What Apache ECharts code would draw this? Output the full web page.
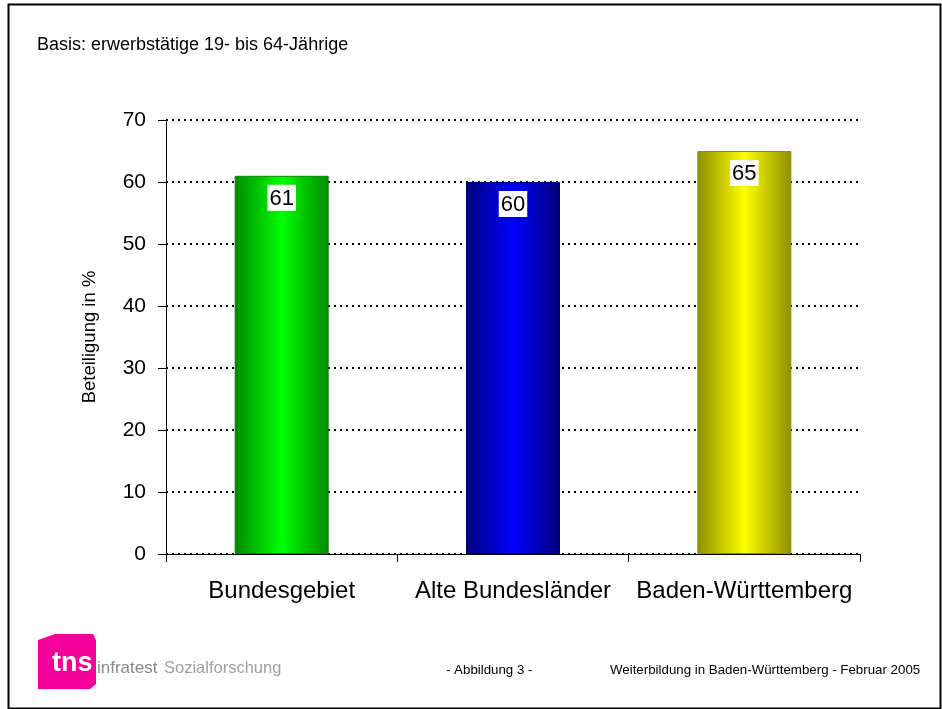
<!DOCTYPE html>
<html>
<head>
<meta charset="utf-8">
<script src="https://cdn.jsdelivr.net/npm/echarts@6/dist/echarts.min.js"></script>
<style>
  html, body { margin: 0; padding: 0; background: #fff; }
  #main { width: 942px; height: 709px; }
</style>
</head>
<body>
<div id="main"></div>
<script>
// Daten
var categories = ['Bundesgebiet', 'Alte Bundesländer', 'Baden-Württemberg'];
var values = [61, 60, 65];
var yTicks = [0, 10, 20, 30, 40, 50, 60, 70];

// Farben der Balken: [Rand, Mitte]
var barColors = [
  ['#008a00', '#00ff00'],
  ['#00007a', '#0000ff'],
  ['#8f8f00', '#ffff00']
];

var myChart = echarts.init(document.getElementById('main'));

function grad(c) {
  return new echarts.graphic.LinearGradient(0, 0, 1, 0, [
    { offset: 0, color: c[0] },
    { offset: 0.5, color: c[1] },
    { offset: 1, color: c[0] }
  ]);
}

var font = 'Arial, "Liberation Sans", sans-serif';

myChart.setOption({
  animation: false,
  textStyle: { fontFamily: font },
  grid: { left: 166, right: 82, top: 120, bottom: 155, containLabel: false },
  xAxis: {
    type: 'category',
    data: categories,
    axisLine: { lineStyle: { color: '#000', width: 1 } },
    axisTick: { show: true, interval: 0, length: 8, lineStyle: { color: '#000' } },
    axisLabel: { interval: 0, color: '#000', fontSize: 24, margin: 25, fontFamily: font }
  },
  yAxis: {
    type: 'value',
    min: yTicks[0],
    max: yTicks[yTicks.length - 1],
    interval: 10,
    name: 'Beteiligung in %',
    nameLocation: 'middle',
    nameGap: 67,
    nameTextStyle: { color: '#000', fontSize: 18.5, fontFamily: font },
    axisLine: { show: true, lineStyle: { color: '#000', width: 1 } },
    axisTick: { show: true, length: 8, lineStyle: { color: '#000' } },
    axisLabel: { color: '#000', fontSize: 21, margin: 20, fontFamily: font },
    splitLine: { show: true, lineStyle: { color: '#000', type: [2, 4], width: 2 } }
  },
  series: [{
    type: 'bar',
    barWidth: 94,
    z: 3,
    data: values.map(function (v, i) {
      return {
        value: v,
        itemStyle: { color: grad(barColors[i]), borderColor: barColors[i][0], borderWidth: 1 }
      };
    }),
    label: {
      show: true,
      position: 'insideTop',
      distance: 9,
      color: '#000',
      fontSize: 22,
      fontFamily: font,
      backgroundColor: '#fff',
      padding: [3, 2, 1, 2]
    }
  }],
  graphic: [
    { type: 'rect', left: 6, top: 2, shape: { width: 932, height: 704 },
      style: { fill: 'none', stroke: '#000', lineWidth: 2 }, silent: true },
    { type: 'text', left: 37, top: 36,
      style: { text: 'Basis: erwerbstätige 19- bis 64-Jährige', fill: '#000', font: '18px ' + font } },
    { type: 'polygon', shape: { points: [[38, 640], [55, 634], [93, 634], [96, 640], [96, 684], [90, 689], [38, 689]] },
      style: { fill: '#f5009a' }, silent: true },
    { type: 'text', left: 52, top: 650,
      style: { text: 'tns', fill: '#fff', font: 'bold 27px ' + font } },
    { type: 'text', left: 97, top: 660,
      style: { text: 'infratest', fill: '#8a8a8a', font: '17px "Liberation Sans Narrow", ' + font } },
    { type: 'text', left: 164, top: 660,
      style: { text: 'Sozialforschung', fill: '#a0a0a0', font: '16.5px "Liberation Sans Narrow", ' + font } },
    { type: 'text', left: 446, top: 664,
      style: { text: '- Abbildung 3 -', fill: '#000', font: '13.3px ' + font } },
    { type: 'text', left: 610, top: 664,
      style: { text: 'Weiterbildung in Baden-Württemberg - Februar 2005', fill: '#000', font: '13.3px ' + font } }
  ]
});
</script>
</body>
</html>
